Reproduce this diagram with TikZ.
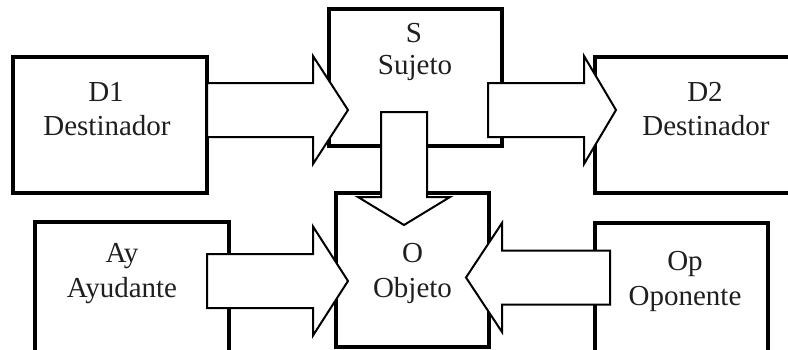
\documentclass[tikz,border=0pt]{standalone}
\usepackage{fontspec}
\setmainfont{Liberation Serif}
\usetikzlibrary{calc}

\tikzset{
  box/.style={draw=black, line width=3.2pt, fill=white, inner sep=0pt},
  lbl/.style={inner sep=0pt, anchor=base, font=\fontsize{29}{34}\selectfont, text=black!88},
  blockarrowstyle/.style={draw=black, line width=2pt, fill=white, line join=miter}
}

% block arrow: #1 start, #2 tip, #3 shaft half-width, #4 head half-width, #5 head length
\newcommand\blockarrow[5]{%
  \coordinate (hb) at ($(#2)!#5!(#1)$);
  \draw[blockarrowstyle]
    ($(#1)!#3!90:(#2)$) -- ($(hb)!#3!90:(#2)$) -- ($(hb)!#4!90:(#2)$) -- (#2)
    -- ($(hb)!#4!-90:(#2)$) -- ($(hb)!#3!-90:(#2)$) -- ($(#1)!#3!-90:(#2)$) -- cycle;
}

\begin{document}
\begin{tikzpicture}[x=1pt, y=-1pt]
  \useasboundingbox (0,0) rectangle (788,349);
  \clip (0,0) rectangle (788,349);
  \fill[white] (0,0) rectangle (788,349);

  % boxes
  \node[box, minimum width=194pt, minimum height=136pt] (D1) at (110,125) {};
  \node[box, minimum width=173pt, minimum height=137pt] (S)  at (415.5,77.5) {};
  \node[box, minimum width=222pt, minimum height=136pt] (D2) at (706,125) {};
  \node[box, minimum width=194pt, minimum height=150pt] (Ay) at (132,297) {};
  \node[box, minimum width=153pt, minimum height=154pt] (O)  at (412.5,270) {};
  \node[box, minimum width=173pt, minimum height=150pt] (Op) at (681.5,298) {};

  % arrow end points
  \coordinate (d1s) at (207,110);  \coordinate (d1t) at (348,110);
  \coordinate (s2s) at (488,110);  \coordinate (s2t) at (616,110);
  \coordinate (sos) at (404,112);  \coordinate (sot) at (404,225);
  \coordinate (ays) at (207,281);  \coordinate (ayt) at (348,281);
  \coordinate (ops) at (610,277.5);  \coordinate (opt) at (466,277.5);

  % block arrows
  \blockarrow{d1s}{d1t}{27pt}{54pt}{35pt}
  \blockarrow{s2s}{s2t}{27pt}{54pt}{32pt}
  \blockarrow{sos}{sot}{23pt}{46pt}{28pt}
  \blockarrow{ays}{ayt}{27pt}{54.5pt}{35pt}
  \blockarrow{ops}{opt}{27pt}{54.5pt}{36pt}

  % labels
  \node[lbl] (D1a) at (106,101) {D1};
  \node[lbl] (D1b) at (107,135) {Destinador};
  \node[lbl] (Sa)  at (414,42)  {S};
  \node[lbl] (Sb)  at (415,74)  {Sujeto};
  \node[lbl] (D2a) at (705,101) {D2};
  \node[lbl] (D2b) at (706,135) {Destinador};
  \node[lbl] (Aya) at (122,262) {Ay};
  \node[lbl] (Ayb) at (122,297) {Ayudante};
  \node[lbl] (Oa)  at (412.5,262) {O};
  \node[lbl] (Ob)  at (412.5,297) {Objeto};
  \node[lbl] (Opa) at (685,270) {Op};
  \node[lbl] (Opb) at (685,305) {Oponente};
\end{tikzpicture}
\end{document}
